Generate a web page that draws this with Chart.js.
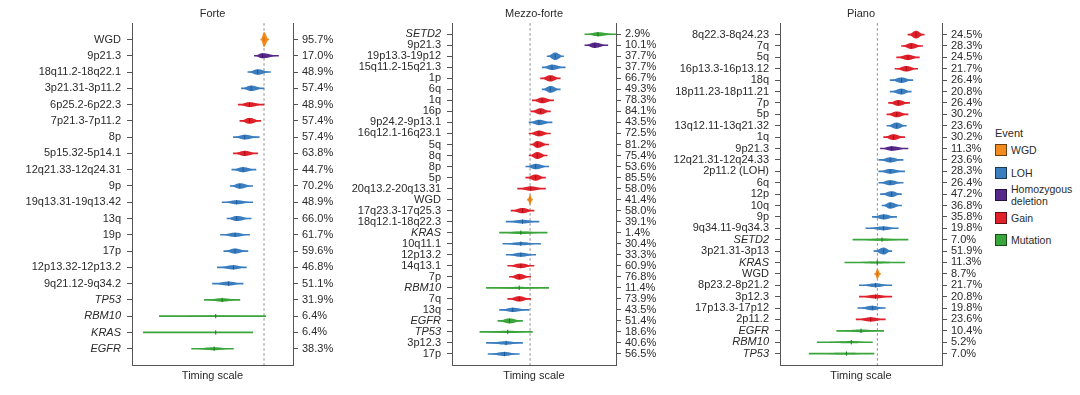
<!DOCTYPE html>
<html>
<head>
<meta charset="utf-8">
<title>Event timing</title>
<script src="https://cdn.jsdelivr.net/npm/chart.js@4.4.1/dist/chart.umd.min.js"></script>
<style>
  html, body { margin: 0; padding: 0; background: #fff; }
  #wrap { position: relative; width: 1080px; height: 395px; overflow: hidden;
          font-family: "Liberation Sans", Arial, sans-serif; color: #2a2a2a; }
  #wrap canvas { position: absolute; top: 0; }
  #legend { position: absolute; left: 995px; top: 127px; }
  #legend .lg-title { font-size: 11px; height: 12px; line-height: 12px; }
  #legend .lg-item { display: flex; align-items: center; height: 22.5px; font-size: 10.5px; line-height: 12px; }
  #legend .sw { display: inline-block; width: 10px; height: 10px; border: 1px solid rgba(0,0,0,0.55); margin-right: 4px; flex: none; }
</style>
</head>
<body>
<div id="wrap">
  <canvas id="forte" width="350" height="395" style="left:0px"></canvas>
  <canvas id="mezzo" width="340" height="395" style="left:340px"></canvas>
  <canvas id="piano" width="340" height="395" style="left:655px"></canvas>
  <div id="legend"></div>
</div>
<script>
// timing scale runs 0 (left axis) .. 1 (right axis); ref = WGD timing line
var forteLabels = ['WGD', '9p21.3', '18q11.2-18q22.1', '3p21.31-3p11.2', '6p25.2-6p22.3', '7p21.3-7p11.2', '8p',
    '5p15.32-5p14.1', '12q21.33-12q24.31', '9p', '19q13.31-19q13.42', '13q', '19p', '17p', '12p13.32-12p13.2',
    '9q21.12-9q34.2', 'TP53', 'RBM10', 'KRAS', 'EGFR'];
var fortePct = ['95.7%', '17.0%', '48.9%', '57.4%', '48.9%', '57.4%', '57.4%', '63.8%', '44.7%', '70.2%',
    '48.9%', '66.0%', '61.7%', '59.6%', '46.8%', '51.1%', '31.9%', '6.4%', '6.4%', '38.3%'];
var forteType = ['WGD', 'HD', 'LOH', 'LOH', 'Gain', 'Gain', 'LOH', 'Gain', 'LOH', 'LOH',
    'LOH', 'LOH', 'LOH', 'LOH', 'LOH', 'LOH', 'Mut', 'Mut', 'Mut', 'Mut'];
var forteLo  = [0.80, 0.76, 0.72, 0.68, 0.66, 0.67, 0.63, 0.63, 0.62, 0.61, 0.56, 0.59, 0.55, 0.57, 0.53, 0.50, 0.45, 0.17, 0.07, 0.37];
var forteMed = [0.82, 0.81, 0.78, 0.74, 0.73, 0.73, 0.70, 0.70, 0.69, 0.67, 0.65, 0.65, 0.64, 0.64, 0.63, 0.60, 0.56, 0.52, 0.52, 0.51];
var forteHi  = [0.85, 0.91, 0.86, 0.82, 0.82, 0.80, 0.79, 0.78, 0.77, 0.75, 0.75, 0.74, 0.73, 0.72, 0.71, 0.69, 0.67, 0.83, 0.75, 0.63];
var forteRef = 0.82;

var mezzoLabels = ['SETD2', '9p21.3', '19p13.3-19p12', '15q11.2-15q21.3', '1p', '6q', '1q', '16p', '9p24.2-9p13.1',
    '16q12.1-16q23.1', '5q', '8q', '8p', '5p', '20q13.2-20q13.31', 'WGD', '17q23.3-17q25.3', '18q12.1-18q22.3',
    'KRAS', '10q11.1', '12p13.2', '14q13.1', '7p', 'RBM10', '7q', '13q', 'EGFR', 'TP53', '3p12.3', '17p'];
var mezzoPct = ['2.9%', '10.1%', '37.7%', '37.7%', '66.7%', '49.3%', '78.3%', '84.1%', '43.5%', '72.5%',
    '81.2%', '75.4%', '53.6%', '85.5%', '58.0%', '41.4%', '58.0%', '39.1%', '1.4%', '30.4%',
    '33.3%', '60.9%', '76.8%', '11.4%', '73.9%', '43.5%', '51.4%', '18.6%', '40.6%', '56.5%'];
var mezzoType = ['Mut', 'HD', 'LOH', 'LOH', 'Gain', 'LOH', 'Gain', 'Gain', 'LOH', 'Gain',
    'Gain', 'Gain', 'LOH', 'Gain', 'Gain', 'WGD', 'Gain', 'LOH', 'Mut', 'LOH',
    'LOH', 'Gain', 'Gain', 'Mut', 'Gain', 'LOH', 'Mut', 'Mut', 'LOH', 'LOH'];
var mezzoLo  = [0.81, 0.81, 0.58, 0.55, 0.54, 0.55, 0.49, 0.48, 0.47, 0.47, 0.48, 0.47, 0.45, 0.45, 0.40,
    0.46, 0.36, 0.33, 0.29, 0.31, 0.33, 0.34, 0.35, 0.21, 0.34, 0.29, 0.28, 0.17, 0.21, 0.22];
var mezzoMed = [0.89, 0.87, 0.63, 0.61, 0.60, 0.60, 0.55, 0.54, 0.53, 0.53, 0.52, 0.52, 0.51, 0.51, 0.48,
    0.476, 0.43, 0.43, 0.42, 0.42, 0.42, 0.42, 0.41, 0.41, 0.41, 0.37, 0.35, 0.34, 0.33, 0.32];
var mezzoHi  = [1.00, 0.95, 0.68, 0.69, 0.66, 0.66, 0.62, 0.60, 0.61, 0.60, 0.59, 0.58, 0.59, 0.57, 0.57,
    0.49, 0.50, 0.53, 0.58, 0.54, 0.51, 0.50, 0.48, 0.59, 0.48, 0.47, 0.43, 0.49, 0.43, 0.41];
var mezzoRef = 0.476;

var pianoLabels = ['8q22.3-8q24.23', '7q', '5q', '16p13.3-16p13.12', '18q', '18p11.23-18p11.21', '7p', '5p',
    '13q12.11-13q21.32', '1q', '9p21.3', '12q21.31-12q24.33', '2p11.2 (LOH)', '6q', '12p', '10q', '9p',
    '9q34.11-9q34.3', 'SETD2', '3p21.31-3p13', 'KRAS', 'WGD', '8p23.2-8p21.2', '3p12.3', '17p13.3-17p12',
    '2p11.2', 'EGFR', 'RBM10', 'TP53'];
var pianoPct = ['24.5%', '28.3%', '24.5%', '21.7%', '26.4%', '20.8%', '26.4%', '30.2%', '23.6%', '30.2%',
    '11.3%', '23.6%', '28.3%', '26.4%', '47.2%', '36.8%', '35.8%', '19.8%', '7.0%', '51.9%',
    '11.3%', '8.7%', '21.7%', '20.8%', '19.8%', '23.6%', '10.4%', '5.2%', '7.0%'];
var pianoType = ['Gain', 'Gain', 'Gain', 'Gain', 'LOH', 'LOH', 'Gain', 'Gain', 'LOH', 'Gain',
    'HD', 'LOH', 'LOH', 'LOH', 'LOH', 'LOH', 'LOH', 'LOH', 'Mut', 'LOH',
    'Mut', 'WGD', 'LOH', 'Gain', 'LOH', 'Gain', 'Mut', 'Mut', 'Mut'];
var pianoLo  = [0.79, 0.75, 0.72, 0.71, 0.68, 0.68, 0.67, 0.66, 0.66, 0.64, 0.62, 0.61, 0.61, 0.61, 0.62,
    0.63, 0.57, 0.53, 0.45, 0.58, 0.40, 0.585, 0.49, 0.49, 0.48, 0.47, 0.35, 0.23, 0.18];
var pianoMed = [0.84, 0.81, 0.79, 0.78, 0.75, 0.75, 0.73, 0.72, 0.72, 0.70, 0.69, 0.68, 0.68, 0.68, 0.69,
    0.68, 0.64, 0.64, 0.63, 0.64, 0.60, 0.601, 0.59, 0.59, 0.57, 0.56, 0.50, 0.44, 0.41];
var pianoHi  = [0.89, 0.88, 0.86, 0.85, 0.82, 0.81, 0.80, 0.79, 0.78, 0.77, 0.79, 0.76, 0.77, 0.76, 0.75,
    0.75, 0.72, 0.73, 0.79, 0.69, 0.77, 0.62, 0.69, 0.69, 0.65, 0.65, 0.64, 0.57, 0.58];
var pianoRef = 0.601;

var legendKeys  = ['WGD', 'LOH', 'HD', 'Gain', 'Mut'];
var legendNames = ['WGD', 'LOH', 'Homozygous<br>deletion', 'Gain', 'Mutation'];

var eventColors = { WGD: '#f28a1e', LOH: '#3b7ec0', HD: '#55288a', Gain: '#e0202a', Mut: '#3aa53a' };
var eventDark   = { WGD: '#d46f08', LOH: '#1f5893', HD: '#3a1466', Gain: '#a50f18', Mut: '#1c7a1c' };

var FONT = '"Liberation Sans", Arial, sans-serif';
var TEXT = '#2a2a2a';
var AXIS = '#555';
var VIOLIN_AREA = 125; // px^2, height of a violin = area / width

Chart.defaults.font.family = FONT;
Chart.defaults.color = TEXT;

function pad(arr) { return [null].concat(arr, [null]); }
function padLabels(arr) { return [''].concat(arr, ['']); }

// blank first/last categories give the one-row margin at top and bottom; hide their ticks
function trimPads(scale) {
    var last = scale.getLabels().length - 1;
    scale.ticks = scale.ticks.filter(function (t) { return t.value > 0 && t.value < last; });
}

function violinPlugin(types) {
    return {
        id: 'violins',
        afterDatasetDraw: function (chart, args) {
            if (args.index !== 2) return; // right after the dashed WGD line
            var ctx = chart.ctx;
            var bars = chart.getDatasetMeta(0).data;
            var meds = chart.getDatasetMeta(1).data;
            var ys = chart.scales.y;
            var rowH = Math.abs(ys.getPixelForValue(2) - ys.getPixelForValue(1));
            ctx.save();
            for (var i = 1; i < bars.length - 1; i++) {
                var bar = bars[i];
                var left = Math.min(bar.x, bar.base), right = Math.max(bar.x, bar.base);
                var mid = meds[i].x, cy = bar.y;
                var half = Math.min(VIOLIN_AREA / Math.max(right - left, 1), rowH * 0.92) / 2;
                var steps = 48, k, px, pts = [];
                for (k = 0; k <= steps; k++) {
                    px = left + (right - left) * k / steps;
                    var u = px < mid ? (mid - px) / Math.max(mid - left, 0.5) : (px - mid) / Math.max(right - mid, 0.5);
                    u = Math.min(u, 1);
                    pts.push([px, half * (1 + Math.cos(Math.PI * u)) / 2]);
                }
                ctx.beginPath();
                for (k = 0; k < pts.length; k++) ctx.lineTo(pts[k][0], cy - pts[k][1]);
                for (k = pts.length - 1; k >= 0; k--) ctx.lineTo(pts[k][0], cy + pts[k][1]);
                ctx.closePath();
                ctx.fillStyle = eventColors[types[i - 1]];
                ctx.fill();
            }
            ctx.restore();
        }
    };
}

function makePanel(id, title, labels, pct, types, lo, med, hi, ref, leftW, rightW) {
    var ranges = lo.map(function (v, i) { return [v, hi[i]]; });
    var isMut = function (c) { return c.tick && types[c.tick.value - 1] === 'Mut'; };
    var rowColor = function (c) { return eventColors[types[c.dataIndex - 1]] || '#000'; };
    var rowDark = function (c) { return eventDark[types[c.dataIndex - 1]] || '#000'; };
    var yAxis = function (position, axisLabels, width, padding) {
        return {
            type: 'category', position: position, offset: false, labels: axisLabels,
            grid: { display: true, offset: false, drawOnChartArea: false, drawTicks: true, tickLength: 5, color: AXIS },
            border: { display: true, color: AXIS, width: 1 },
            ticks: {
                autoSkip: false, padding: padding, color: TEXT,
                font: function (c) { return { family: FONT, size: 11, style: isMut(c) ? 'italic' : 'normal' }; }
            },
            afterBuildTicks: trimPads,
            afterFit: function (s) { s.width = width; }
        };
    };
    var y2 = yAxis('right', padLabels(pct), rightW, 4);
    y2.ticks.font = { family: FONT, size: 11 };

    return new Chart(document.getElementById(id), {
        type: 'bar',
        data: {
            labels: padLabels(labels),
            datasets: [{
                label: 'range', indexAxis: 'y', data: pad(ranges), order: 2,
                barThickness: 1, borderWidth: 0, backgroundColor: rowColor
            }, {
                type: 'line', label: 'median', indexAxis: 'y', data: pad(med), order: 1,
                showLine: false, pointStyle: 'line', pointRotation: 90, pointRadius: 2.2,
                pointBorderWidth: 1, pointBorderColor: rowDark, pointBackgroundColor: rowDark
            }, {
                type: 'line', label: 'WGD', indexAxis: 'y', order: 3,
                data: padLabels(labels).map(function () { return ref; }),
                borderColor: '#8c8c8c', borderWidth: 1, borderDash: [2.5, 2.5], pointRadius: 0
            }]
        },
        options: {
            indexAxis: 'y',
            responsive: false,
            animation: false,
            devicePixelRatio: 1,
            layout: { padding: 0 },
            plugins: {
                legend: { display: false },
                tooltip: { enabled: false },
                title: {
                    display: true, text: title, fullSize: false, color: TEXT,
                    font: { family: FONT, size: 11, weight: 'normal' }, padding: { top: 7, bottom: 3 }
                }
            },
            scales: {
                x: {
                    type: 'linear', min: 0, max: 1,
                    ticks: { display: false }, grid: { display: false },
                    border: { display: true, color: AXIS, width: 1 },
                    title: {
                        display: true, text: 'Timing scale', color: TEXT,
                        font: { family: FONT, size: 11 }, padding: { top: 0, bottom: 12 }
                    },
                    afterFit: function (s) { s.height = 30; }
                },
                y: yAxis('left', undefined, leftW, 6),
                y2: y2
            }
        },
        plugins: [violinPlugin(types)]
    });
}

makePanel('forte', 'Forte', forteLabels, fortePct, forteType, forteLo, forteMed, forteHi, forteRef, 132, 57);
makePanel('mezzo', 'Mezzo-forte', mezzoLabels, mezzoPct, mezzoType, mezzoLo, mezzoMed, mezzoHi, mezzoRef, 112, 64);
makePanel('piano', 'Piano', pianoLabels, pianoPct, pianoType, pianoLo, pianoMed, pianoHi, pianoRef, 125, 53);

// legend
var lg = document.getElementById('legend');
var html = '<div class="lg-title">Event</div>';
legendKeys.forEach(function (k, i) {
    html += '<div class="lg-item"><span class="sw" style="background:' + eventColors[k] + '"></span><span>' +
        legendNames[i] + '</span></div>';
});
lg.innerHTML = html;
</script>
</body>
</html>
